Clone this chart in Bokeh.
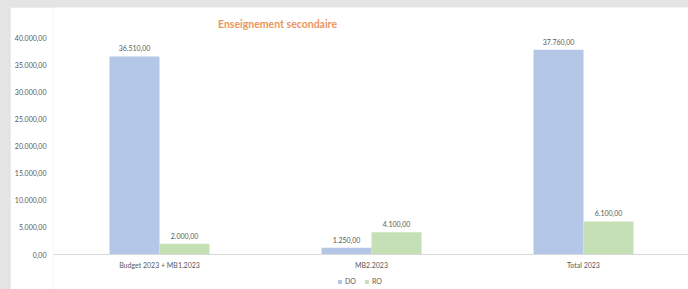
from bokeh.plotting import figure
from bokeh.models import ColumnDataSource, Range1d, Legend, LegendItem, Label, FixedTicker, Span
from bokeh.core.properties import value
from bokeh.embed import file_html
from bokeh.resources import INLINE

categories = ["Budget 2023 + MB1.2023", "MB2.2023", "Total 2023"]
do_values = [36510, 1250, 37760]
ro_values = [2000, 4100, 6100]
y_ticks = [0, 5000, 10000, 15000, 20000, 25000, 30000, 35000, 40000]
title_text = "Enseignement secondaire"

def fmt(v):
    s = f"{v:,.2f}"
    return s.replace(",", "X").replace(".", ",").replace("X", ".")

BLUE = "#b4c7e7"
GREEN = "#c5e0b4"
TXT = "#595959"
FONT = "Lato"

# page offset of the white chart area (grey strip left/top like the reference)
OFF_X, OFF_Y = 10, 7
W, H = 688 - OFF_X, 289 - OFF_Y
LEFT = 53 - OFF_X          # plot frame left edge inside the figure
PX_PER_CAT = 212.0
PX_PER_UNIT = 5.425 / 1000  # px per value unit
BASE = 254 - OFF_Y          # baseline in figure px

bar_w = 0.236
centers = [i + 0.5 for i in range(len(categories))]

src_do = ColumnDataSource(dict(x=[c - bar_w / 2 for c in centers], top=do_values,
                               lab=[fmt(v) for v in do_values]))
src_ro = ColumnDataSource(dict(x=[c + bar_w / 2 for c in centers], top=ro_values,
                               lab=[fmt(v) for v in ro_values]))
src_cat = ColumnDataSource(dict(x=centers, y=[0] * len(centers), t=categories))

p = figure(width=W, height=H, output_backend="svg", toolbar_location=None,
           x_range=Range1d(0, (W - LEFT) / PX_PER_CAT),
           y_range=Range1d(-(H - BASE) / PX_PER_UNIT, BASE / PX_PER_UNIT),
           min_border_left=LEFT, min_border_right=0, min_border_top=0, min_border_bottom=0)
p.outline_line_color = None
p.background_fill_color = "white"
p.border_fill_color = "white"
p.xgrid.visible = False
p.ygrid.visible = False
p.xaxis.visible = False

r_do = p.vbar(x="x", top="top", width=bar_w, source=src_do, fill_color=BLUE, line_color=None)
r_ro = p.vbar(x="x", top="top", width=bar_w, source=src_ro, fill_color=GREEN, line_color=None)

p.add_layout(Span(location=0, dimension="width", line_color="#d9d9d9", line_width=1))

for src in (src_do, src_ro):
    p.text(x="x", y="top", text="lab", source=src, text_align="center", text_baseline="bottom",
           y_offset=-5, text_font=value(FONT), text_font_size="7px", text_color=TXT)

# category labels under the baseline
p.text(x="x", y="y", text="t", source=src_cat, text_align="center", text_baseline="middle",
       y_offset=10, text_font=value(FONT), text_font_size="7px", text_color=TXT)

# y axis
p.yaxis.ticker = FixedTicker(ticks=y_ticks)
p.yaxis.major_label_overrides = {t: fmt(t) for t in y_ticks}
p.yaxis.axis_line_color = None
p.yaxis.major_tick_line_color = None
p.yaxis.minor_tick_line_color = None
p.yaxis.major_tick_out = 0
p.yaxis.major_tick_in = 0
p.yaxis.minor_tick_out = 0
p.yaxis.minor_tick_in = 0
p.yaxis.major_label_standoff = 7
p.yaxis.major_label_text_font = FONT
p.yaxis.major_label_text_font_size = "7px"
p.yaxis.major_label_text_color = TXT

title = Label(x=(277 - 53) / PX_PER_CAT, y=(254 - 23) / PX_PER_UNIT, text=title_text,
              text_align="center", text_baseline="middle", text_font=FONT,
              text_font_size="10.5px", text_font_style="bold", text_color="#eb9560")
p.add_layout(title)

legend = Legend(items=[LegendItem(label="DO", renderers=[r_do]),
                       LegendItem(label="RO", renderers=[r_ro])],
                orientation="horizontal", location=(284, 4),
                label_text_font=FONT, label_text_font_size="7px", label_text_color=TXT,
                glyph_width=5, glyph_height=5, label_standoff=3, spacing=8,
                label_width=8, padding=0, margin=0, label_height=7, border_line_color=None,
                background_fill_alpha=0)
p.add_layout(legend)

html = file_html(p, INLINE)
html = html.replace("</head>",
                    "<style>body{background-color:#e4e4e4;padding:%dpx 0 0 %dpx;}</style></head>"
                    % (OFF_Y, OFF_X), 1)
open("out.html", "w").write(html)
